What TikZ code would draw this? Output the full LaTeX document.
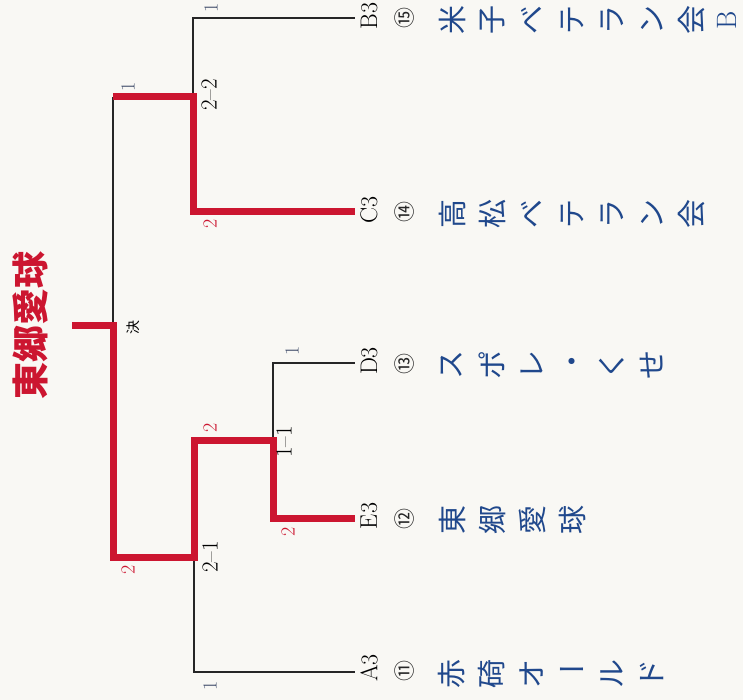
\documentclass[tikz,border=0pt]{standalone}
\usepackage{fontspec}
\newfontfamily\cjk{Noto Sans CJK JP}
\definecolor{brred}{RGB}{204,22,48}
\definecolor{nameblue}{RGB}{32,72,140}
\definecolor{scoregray}{RGB}{70,82,110}
\definecolor{paper}{RGB}{249,248,244}
\begin{document}
\begin{tikzpicture}[x=1pt,y=-1pt,
  wire/.style={line width=2pt, black!85, line join=miter},
  win/.style={line width=7pt, brred, line join=miter},
  team/.style={rotate=90, inner sep=0pt, font=\fontsize{24}{24}\selectfont},
  score/.style={rotate=90, inner sep=0pt, font=\fontsize{20}{20}\selectfont},
  lose/.style={score, text=scoregray},
  wins/.style={score, text=brred},
  game/.style={rotate=90, inner sep=0pt, font=\fontsize{23}{23}\selectfont},
  circnum/.style={rotate=90, inner sep=0pt, text=black!85, font=\cjk\fontsize{21}{21}\selectfont},
  namech/.style={inner sep=0pt, text=nameblue, font=\cjk\fontsize{29}{29}\selectfont}]
\useasboundingbox (0,0) rectangle (743,700);
\fill[paper] (0,0) rectangle (743,700);

% junctions and slot ends
\coordinate (fEnd) at (72,325);
\coordinate (fJ) at (113,325);
\coordinate (sTop) at (113,97);
\coordinate (sBot) at (113,557);
\coordinate (jTop) at (193,97);
\coordinate (jB) at (193,18);
\coordinate (jC) at (193,212);
\coordinate (jBot) at (194,557);
\coordinate (jQ) at (194,440);
\coordinate (jA) at (194,672);
\coordinate (jQ2) at (273,440);
\coordinate (jD) at (273,363);
\coordinate (jE) at (273,518);
\coordinate (eB) at (355,18);
\coordinate (eC) at (355,212);
\coordinate (eD) at (355,363);
\coordinate (eE) at (355,518);
\coordinate (eA) at (355,672);

% losing lines
\draw[wire] (sTop) -- (fJ);
\draw[wire] (jTop) -- (jB) -- (eB);
\draw[wire] (jBot) -- (jA) -- (eA);
\draw[wire] (jQ2) -- (jD) -- (eD);
% winning lines
\draw[win] (fEnd) -- (fJ) -- (sBot) -- (jBot) -- (jQ) -- (jQ2) -- (jE) -- (eE);
\draw[win] (sTop) -- (jTop) -- (jC) -- (eC);

% title
\node[rotate=90, inner sep=0pt, text=brred, font=\cjk\bfseries\fontsize{37}{37}\selectfont] (title) at (30,325) {東郷愛球};
\node[rotate=90, inner sep=0pt, font=\cjk\fontsize{14}{14}\selectfont] (ketsu) at (133,327) {決};

% scores and game numbers
\node[lose] (s1) at (128,87) {1};
\node[lose] (s2) at (211,8) {1};
\node[wins] (s3) at (210,224) {2};
\node[game] (g22) at (209,95) {2–2};
\node[wins] (s4) at (128,570) {2};
\node[game] (g21) at (210,557) {2–1};
\node[wins] (s5) at (210,428) {2};
\node[lose] (s6) at (210,686) {1};
\node[game] (g11) at (284,442) {1–1};
\node[wins] (s7) at (288,532) {2};
\node[lose] (s8) at (292,351) {1};

% team slots
\node[team] (B3) at (369,16) {B3};
\node[team] (C3) at (369,210) {C3};
\node[team] (D3) at (369,361) {D3};
\node[team] (E3) at (369,516) {E3};
\node[team] (A3) at (369,668) {A3};

% entry numbers
\node[circnum] (n15) at (405,18) {⑮};
\node[circnum] (n14) at (405,212) {⑭};
\node[circnum] (n13) at (405,364) {⑬};
\node[circnum] (n12) at (405,519) {⑫};
\node[circnum] (n11) at (405,671) {⑪};

% team names (vertical writing, turned)
\foreach \yy/\id/\chars in {
  20/a/{米/90,子/90,ベ/90,テ/90,ラ/90,ン/90,会/90},
  214/b/{高/90,松/90,ベ/90,テ/90,ラ/90,ン/90,会/90},
  365/c/{ス/90,ポ/90,レ/90,・/0,く/90,せ/90},
  520/d/{東/90,郷/90,愛/90,球/90},
  674/e/{赤/90,碕/90,オ/90,ー/0,ル/90,ド/90}} {
  \foreach \c/\r [count=\i] in \chars {
    \node[namech, rotate=\r] (nm\id\i) at ({412+40*\i},\yy) {\c};
  }
}
\node[rotate=90, inner sep=0pt, text=nameblue, font=\fontsize{28}{28}\selectfont] (nmaB) at (727,20) {B};
\end{tikzpicture}
\end{document}
